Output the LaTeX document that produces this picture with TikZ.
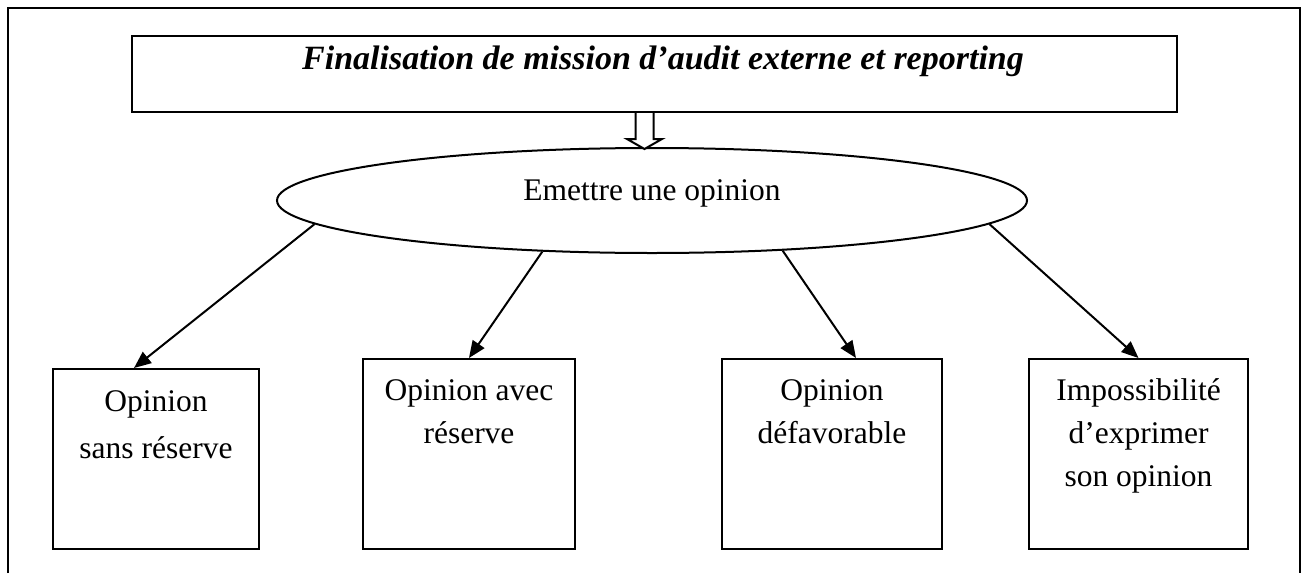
\documentclass[tikz,border=0pt]{standalone}
\usepackage{fontspec}
\setmainfont{Liberation Serif}
\usetikzlibrary{shapes.geometric,arrows.meta,calc}
% text of an outcome box: top-aligned lines, first baseline is the box baseline
\newcommand\boxlines[3]{\parbox[t]{#1}{\centering\fontsize{31.5}{#2}\selectfont #3}}
\begin{document}
\begin{tikzpicture}[x=1pt,y=-1pt,line width=2pt,
  titlebox/.style={draw,inner sep=0pt,minimum width=1045pt,
    text height=33pt,text depth=43pt,
    font=\fontsize{34}{40}\selectfont\bfseries\itshape},
  opinionell/.style={draw,ellipse,inner sep=0pt,minimum width=750pt,
    minimum height=105pt,text height=20pt,text depth=20pt,
    font=\fontsize{31.5}{38}\selectfont},
  outcome/.style={draw,rectangle,inner sep=0pt,anchor=north west},
  conn/.style={-{Triangle[length=17pt,width=14pt]},line width=2pt},
  hollow/.style={draw,fill=white,line width=2pt,line join=miter}
]
\useasboundingbox (0,0) rectangle (1303,573);

% page frame, open at the bottom
\draw (8,573) -- (8,8) -- (1300,8) -- (1300,573);

% heading
\node[titlebox] (title) at (654.5,74)
  {\hspace*{17pt}Finalisation de mission d’audit externe et reporting};

% central decision
\node[opinionell] (ell) at (652,200.5) {Emettre une opinion};

% block arrow from the heading to the decision
\coordinate (ha) at ($(title.south)+(-10,0)$);
\draw[hollow,shift={(ha)}] (-9,0) -- (-9,26) -- (-17.5,26) -- (0,36)
  -- (17.5,26) -- (9,26) -- (9,0);

% the four possible opinions
\node[outcome,text height=42pt,text depth=138pt] (b1) at (52,368)
  {\boxlines{206pt}{47pt}{Opinion\\sans réserve}};
\node[outcome,text height=41pt,text depth=149pt] (b2) at (362,358)
  {\boxlines{212pt}{43pt}{Opinion avec\\réserve}};
\node[outcome,text height=41pt,text depth=149pt] (b3) at (721,358)
  {\boxlines{220pt}{43pt}{Opinion\\défavorable}};
\node[outcome,text height=41pt,text depth=149pt] (b4) at (1028,358)
  {\boxlines{219pt}{43pt}{Impossibilité\\d’exprimer\\son opinion}};

% connectors
\draw[conn] (ell.184.7) -- ($(b1.north)+(-22,0)$);
\draw[conn] (ell.205.9) -- (b2.north);
\draw[conn] (ell.339.1) -- ($(b3.north)+(24,0)$);
\draw[conn] (ell.356.3) -- (b4.north);
\end{tikzpicture}
\end{document}
